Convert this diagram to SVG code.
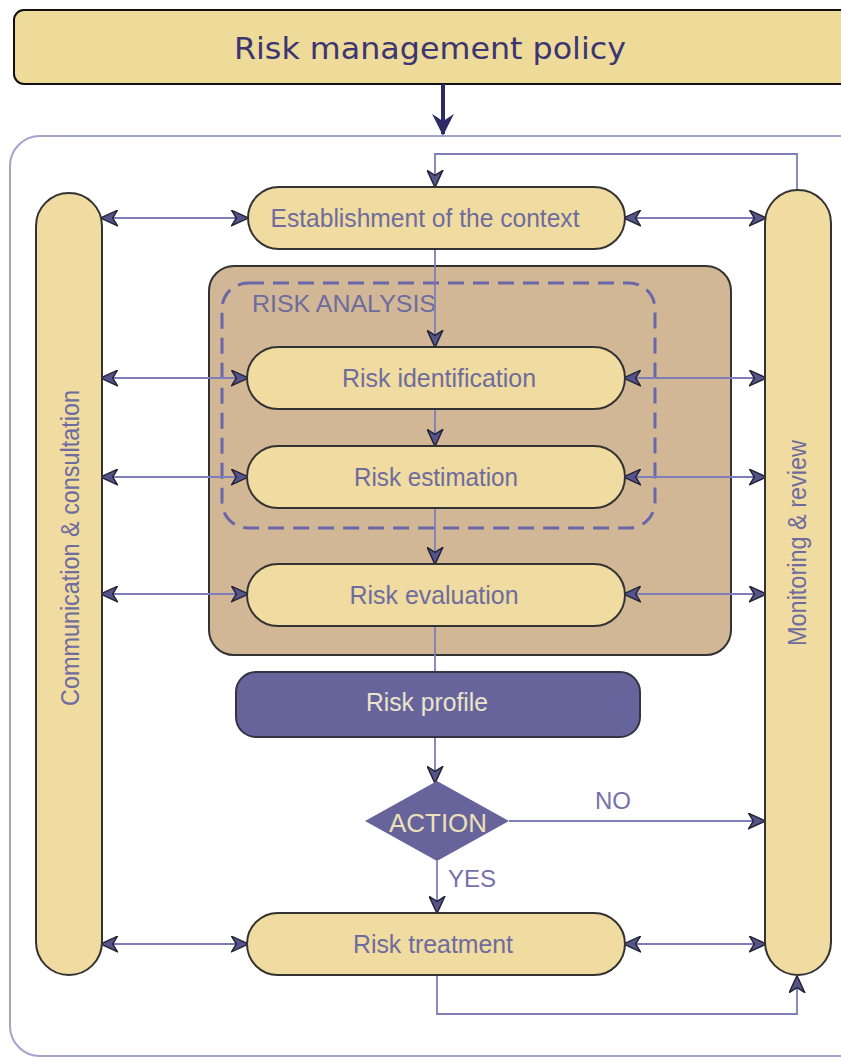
<svg xmlns="http://www.w3.org/2000/svg" width="841" height="1062" viewBox="0 0 841 1062">
  <style>
    .pill { fill: #F0DBA0; stroke: #333333; stroke-width: 2; }
    .lbl { font-family: "Liberation Sans", Arial, sans-serif; font-size: 25px; fill: #6E6C9E; text-anchor: middle; }
    .link { fill: none; stroke: #7E7DBA; stroke-width: 1.8; }
    .side { font-family: "Liberation Sans", Arial, sans-serif; font-size: 25px; fill: #6E6C9E; text-anchor: middle; }
  </style>
  <defs>
    <marker id="tip" viewBox="0 0 12 12" refX="11" refY="6" markerWidth="17" markerHeight="17" markerUnits="userSpaceOnUse" orient="auto-start-reverse">
      <path d="M0,0.5 L12,6 L0,11.5 L3.5,6 Z" fill="#55558C" stroke="#222233" stroke-width="1"/>
    </marker>
    <marker id="bold" viewBox="0 0 12 12" refX="11" refY="6" markerWidth="22" markerHeight="22" markerUnits="userSpaceOnUse" orient="auto">
      <path d="M0,0 L12,6 L0,12 L4,6 Z" fill="#2E2A66"/>
    </marker>
  </defs>

  <rect width="841" height="1062" fill="#FFFFFF"/>

  <!-- policy banner -->
  <g id="policy">
    <rect x="14" y="10" width="850" height="74" rx="10" fill="#EEDB9A" stroke="#111111" stroke-width="2"/>
    <text x="430" y="59" font-family="DejaVu Sans, Verdana, sans-serif" font-size="30" fill="#3B3571" text-anchor="middle" textLength="392" lengthAdjust="spacingAndGlyphs">Risk management policy</text>
  </g>

  <!-- outer process frame -->
  <g id="frame">
    <rect x="10" y="136" width="860" height="920" rx="30" fill="none" stroke="#A3A3CC" stroke-width="2"/>
  </g>

  <!-- assessment block -->
  <g id="assessment">
    <rect x="209" y="266" width="522" height="389" rx="25" fill="#D2B796" stroke="#333333" stroke-width="2"/>
  </g>
  <g id="risk-analysis">
    <rect x="222" y="283" width="433" height="245" rx="26" fill="none" stroke="#6A67A8" stroke-width="3" stroke-dasharray="16 9"/>
    <text x="252" y="312" font-family="Liberation Sans, Arial, sans-serif" font-size="23" fill="#6E6C9E" textLength="184" lengthAdjust="spacingAndGlyphs">RISK ANALYSIS</text>
  </g>

  <!-- connectors -->
  <g id="connectors">
    <!-- feedback loop from monitoring to context -->
    <path class="link" d="M797,190 L797,154 L435,154 L435,186" marker-end="url(#tip)"/>
    <!-- main chain -->
    <path class="link" d="M435,249 L435,346" marker-end="url(#tip)"/>
    <path class="link" d="M435,409 L435,445" marker-end="url(#tip)"/>
    <path class="link" d="M435,508 L435,563" marker-end="url(#tip)"/>
    <path class="link" d="M435,626 L435,672"/>
    <path class="link" d="M435,737 L435,782" marker-end="url(#tip)"/>
    <path class="link" d="M437,861 L437,912" marker-end="url(#tip)"/>
    <path class="link" d="M509,821 L764,821" marker-end="url(#tip)"/>
    <path class="link" d="M437,975 L437,1014 L797,1014 L797,977" marker-end="url(#tip)"/>
    <!-- communication links -->
    <path class="link" d="M102,218 L247,218" marker-start="url(#tip)" marker-end="url(#tip)"/>
    <path class="link" d="M102,378 L247,378" marker-start="url(#tip)" marker-end="url(#tip)"/>
    <path class="link" d="M102,477 L247,477" marker-start="url(#tip)" marker-end="url(#tip)"/>
    <path class="link" d="M102,594 L247,594" marker-start="url(#tip)" marker-end="url(#tip)"/>
    <path class="link" d="M102,944 L247,944" marker-start="url(#tip)" marker-end="url(#tip)"/>
    <!-- monitoring links -->
    <path class="link" d="M625,218 L765,218" marker-start="url(#tip)" marker-end="url(#tip)"/>
    <path class="link" d="M625,378 L765,378" marker-start="url(#tip)" marker-end="url(#tip)"/>
    <path class="link" d="M625,477 L765,477" marker-start="url(#tip)" marker-end="url(#tip)"/>
    <path class="link" d="M625,594 L765,594" marker-start="url(#tip)" marker-end="url(#tip)"/>
    <path class="link" d="M625,944 L765,944" marker-start="url(#tip)" marker-end="url(#tip)"/>
  </g>

  <!-- policy arrow into the process -->
  <g id="policy-arrow">
    <path d="M443,84 L443,134" stroke="#2E2A66" stroke-width="4" fill="none" marker-end="url(#bold)"/>
  </g>

  <g id="communication">
    <rect class="pill" x="36" y="193" width="66" height="782" rx="33"/>
    <text class="side" transform="translate(79,548) rotate(-90)" textLength="316" lengthAdjust="spacingAndGlyphs">Communication &amp; consultation</text>
  </g>

  <g id="monitoring">
    <rect class="pill" x="765" y="190" width="66" height="785" rx="33"/>
    <text class="side" transform="translate(806,543) rotate(-90)" textLength="206" lengthAdjust="spacingAndGlyphs">Monitoring &amp; review</text>
  </g>

  <g id="context">
    <rect class="pill" x="248" y="187" width="377" height="62" rx="31"/>
    <text class="lbl" x="425" y="227" textLength="309" lengthAdjust="spacingAndGlyphs">Establishment of the context</text>
  </g>

  <g id="identification">
    <rect class="pill" x="247" y="347" width="378" height="62" rx="31"/>
    <text class="lbl" x="439" y="387" textLength="194" lengthAdjust="spacingAndGlyphs">Risk identification</text>
  </g>

  <g id="estimation">
    <rect class="pill" x="247" y="446" width="378" height="62" rx="31"/>
    <text class="lbl" x="436" y="486" textLength="164" lengthAdjust="spacingAndGlyphs">Risk estimation</text>
  </g>

  <g id="evaluation">
    <rect class="pill" x="247" y="564" width="378" height="62" rx="31"/>
    <text class="lbl" x="434" y="604" textLength="169" lengthAdjust="spacingAndGlyphs">Risk evaluation</text>
  </g>

  <g id="profile">
    <rect x="236" y="672" width="404" height="65" rx="20" fill="#67649B" stroke="#333344" stroke-width="2"/>
    <text class="lbl" x="427" y="711" style="fill:#ECE4CC" textLength="122" lengthAdjust="spacingAndGlyphs">Risk profile</text>
  </g>

  <g id="action">
    <polygon points="437,781 509,821 437,861 365,821" fill="#67649B"/>
    <text x="438" y="832" font-family="Liberation Sans, Arial, sans-serif" font-size="26" fill="#ECE0B8" text-anchor="middle" textLength="98" lengthAdjust="spacingAndGlyphs">ACTION</text>
    <text x="613" y="809" font-family="Liberation Sans, Arial, sans-serif" font-size="24" fill="#7472A8" text-anchor="middle">NO</text>
    <text x="448" y="887" font-family="Liberation Sans, Arial, sans-serif" font-size="24" fill="#7472A8">YES</text>
  </g>

  <g id="treatment">
    <rect class="pill" x="247" y="913" width="378" height="62" rx="31"/>
    <text class="lbl" x="433" y="953" textLength="160" lengthAdjust="spacingAndGlyphs">Risk treatment</text>
  </g>
</svg>
